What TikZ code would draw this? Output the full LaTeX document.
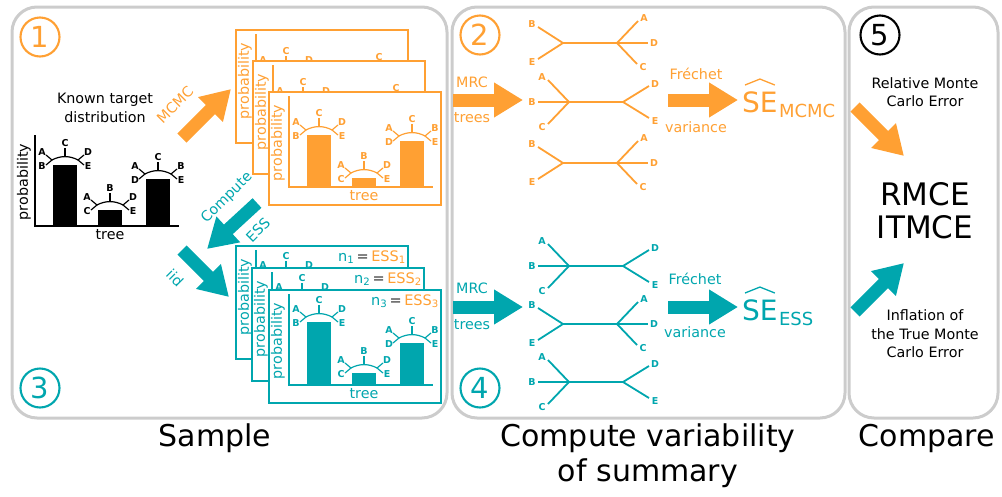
\documentclass[tikz,border=0pt]{standalone}
\usepackage{fontspec}
\setmainfont{DejaVu Sans}
\usetikzlibrary{arrows.meta,calc}
\definecolor{myor}{HTML}{FFA033}
\definecolor{mytl}{HTML}{00A6AE}
\definecolor{mygr}{HTML}{CCCCCC}
\definecolor{mydk}{HTML}{333333}
\tikzset{
  panel/.style={draw=mygr, line width=3pt, rounded corners=25pt},
  lab/.style={font=\bfseries\fontsize{9.5}{9.5}\selectfont, inner sep=0pt},
  num/.style={circle, draw, line width=2.1pt, minimum size=39pt, inner sep=0pt, font=\fontsize{29}{29}\selectfont},
  bigarrow/.style={line width=13pt, -{Triangle[length=29pt,width=33pt]}},
  txt/.style={font=\fontsize{14.3}{18.5}\selectfont, align=center, inner sep=0pt},
  bigtxt/.style={font=\fontsize{30}{34}\selectfont, inner sep=0pt, anchor=base},
  cardbox/.style={draw, fill=white, line width=1.5pt},
}
\newcommand{\mlab}[2]{\if\relax\detokenize{#2}\relax\else\node[lab] at #1 {#2};\fi}
\newcommand{\minitree}[6]{%
  \begin{scope}[shift={#1}, line width=1.2pt]
    \draw (-13,3) .. controls (-5,-1.5) and (5,-1.5) .. (13,3);
    \draw (0,-0.5) -- (0,-9);
    \draw (-19,-2) -- (-13,3);
    \draw (-19,8) -- (-13,3);
    \draw (19,-2) -- (13,3);
    \draw (19,8) -- (13,3);
    \mlab{(-23,-5)}{#2}
    \mlab{(-23,9)}{#3}
    \mlab{(0,-14)}{#4}
    \mlab{(23,-5)}{#5}
    \mlab{(23,9)}{#6}
  \end{scope}}
% #6: F = full, O = orange back card, T = teal back card
\newcommand{\histo}[6]{%
  \begin{scope}[shift={#1}, color=#2]
    \fill (18,0) rectangle (42,-#3);
    \fill (63,0) rectangle (87,-#4);
    \fill (111,0) rectangle (135,-#5);
    \draw[line width=2.5pt] (0,-91) -- (0,0) -- (144,0);
    \if#6F
      \minitree{(30,-#3-8)}{A}{B}{C}{D}{E}
      \minitree{(75,-#4-8)}{A}{C}{B}{D}{E}
      \minitree{(123,-#5-8)}{A}{D}{C}{B}{E}
      \node[txt] at (75,9) {tree};
    \else
      \minitree{(30,-#3-8)}{A}{}{C}{D}{}
      \minitree{(75,-#4-8)}{}{}{}{}{}
      \if#6O
        \minitree{(123,-#5-8)}{}{}{C}{}{}
      \else
        \minitree{(123,-#5-8)}{}{}{}{}{}
      \fi
    \fi
    \node[txt, rotate=90] at (-11,-44) {probability};
  \end{scope}}
\newcommand{\card}[7]{%
  \draw[cardbox, draw=#3] (#1,#2) rectangle (#1+172,#2+113);
  \histo{(#1+20,#2+95)}{#3}{#4}{#5}{#6}{#7}}
\newcommand{\nlabel}[3]{%
  \node[anchor=base east, inner sep=0pt, font=\fontsize{14.5}{14.5}\selectfont] at (#1+170,#2+15)
    {\textcolor{mytl}{n\textsubscript{#3}}\,\textcolor{mydk}{=}\,\textcolor{myor}{ESS\textsubscript{#3}}};}
\newcommand{\treeA}[3]{%
  \begin{scope}[shift={(#1,#2)}, color=#3, line width=1.8pt]
    \draw (-25,-16) -- (0,0);
    \draw (-25,16) -- (0,0);
    \draw (0,0) -- (54,0);
    \draw (75,-22) -- (54,0);
    \draw (74,21) -- (54,0);
    \draw (54,0) -- (85,0);
    \node[lab] at (-31,-19) {B};
    \node[lab] at (-31,19) {E};
    \node[lab] at (81,-25) {A};
    \node[lab] at (91,0) {D};
    \node[lab] at (80,24) {C};
  \end{scope}}
\newcommand{\treeB}[3]{%
  \begin{scope}[shift={(#1,#2)}, color=#3, line width=1.8pt]
    \draw (-21,-22) -- (0,0);
    \draw (-31,0) -- (0,0);
    \draw (-21,22) -- (0,0);
    \draw (0,0) -- (54,0);
    \draw (80,-16) -- (54,0);
    \draw (80,16) -- (54,0);
    \node[lab] at (-27,-25) {A};
    \node[lab] at (-37,0) {B};
    \node[lab] at (-27,25) {C};
    \node[lab] at (86,-18) {D};
    \node[lab] at (86,19) {E};
  \end{scope}}
\begin{document}
\begin{tikzpicture}[x=1pt,y=-1pt]
\useasboundingbox (0,0) rectangle (1002,496);
% panels
\draw[panel] (12,7) rectangle (447,418);
\draw[panel] (452,7) rectangle (845,418);
\draw[panel] (849,7) rectangle (998,418);
% circled numbers
\node[num, draw=myor, text=myor] (n1) at (40,37) {1};
\node[num, draw=myor, text=myor] (n2) at (480,35) {2};
\node[num, draw=mytl, text=mytl] (n3) at (40,388) {3};
\node[num, draw=mytl, text=mytl] (n4) at (480,388) {4};
\node[num, draw=black, text=black] (n5) at (880,35) {5};
% bottom labels
\node[bigtxt] (lsample) at (215,446) {Sample};
\node[bigtxt] (lcomp1) at (648,446) {Compute variability};
\node[bigtxt] (lcomp2) at (648,481) {of summary};
\node[bigtxt] (lcompare) at (927,446) {Compare};
% panel 1
\node[txt] (known) at (105,108) {Known target\\distribution};
\histo{(35,226)}{black}{61}{16}{47}{F}
\card{236}{30}{myor}{52}{9}{46}{O}
\card{253}{61}{myor}{52}{9}{46}{O}
\card{269}{92}{myor}{52}{9}{46}{F}
\card{236}{246}{mytl}{63}{12}{42}{T}
\nlabel{236}{246}{1}
\card{252}{268}{mytl}{63}{12}{42}{T}
\nlabel{252}{268}{2}
\card{269}{290}{mytl}{63}{12}{42}{F}
\nlabel{269}{290}{3}
% panel 1 arrows
\coordinate (mcA) at (182,138); \coordinate (mcB) at (231,89);
\draw[bigarrow, myor] (mcA) -- (mcB);
\node[txt, myor, rotate=45] (lmcmc) at (175,105) {MCMC};
\coordinate (esA) at (257,203); \coordinate (esB) at (207,249);
\draw[bigarrow, mytl] (esA) -- (esB);
\node[txt, mytl, rotate=45] (lcompute) at (227,198) {Compute};
\node[txt, mytl, rotate=45] (less) at (258,230) {ESS};
\coordinate (idA) at (182,250); \coordinate (idB) at (229,297);
\draw[bigarrow, mytl] (idA) -- (idB);
\node[txt, mytl, rotate=-45] (liid) at (175,278) {iid};
% panel 2 orange
\coordinate (mrA) at (453,100); \coordinate (mrB) at (523,100);
\draw[bigarrow, myor] (mrA) -- (mrB);
\node[txt, myor] at (472,82) {MRC};
\node[txt, myor] at (472,118) {trees};
\treeA{563}{43}{myor}
\treeB{569}{102}{myor}
\treeA{563}{163}{myor}
\coordinate (frA) at (668,100); \coordinate (frB) at (738,100);
\draw[bigarrow, myor] (frA) -- (frB);
\node[txt, myor] at (696,74) {Fréchet};
\node[txt, myor] at (696,127) {variance};
\node[anchor=base west, inner sep=0pt, font=\fontsize{28}{28}\selectfont, myor] (seM) at (742,112) {SE};
\node[anchor=base west, inner sep=0pt, font=\fontsize{18}{18}\selectfont, myor] (seMs) at ($(seM.base east)+(1,5)$) {MCMC};
\draw[myor, line width=1.3pt] ($(seM.north west)+(3,-6)$) -- ($(seM.north)+(0,-12)$) -- ($(seM.north east)+(-3,-6)$);
% panel 2 teal
\coordinate (mrC) at (453,307); \coordinate (mrD) at (523,307);
\draw[bigarrow, mytl] (mrC) -- (mrD);
\node[txt, mytl] at (472,288) {MRC};
\node[txt, mytl] at (472,325) {trees};
\treeB{569}{266}{mytl}
\treeA{563}{324}{mytl}
\treeB{569}{382}{mytl}
\coordinate (frC) at (668,307); \coordinate (frD) at (738,307);
\draw[bigarrow, mytl] (frC) -- (frD);
\node[txt, mytl] at (695,279) {Fréchet};
\node[txt, mytl] at (695,332) {variance};
\node[anchor=base west, inner sep=0pt, font=\fontsize{28}{28}\selectfont, mytl] (seE) at (742,320) {SE};
\node[anchor=base west, inner sep=0pt, font=\fontsize{18}{18}\selectfont, mytl] (seEs) at ($(seE.base east)+(1,5)$) {ESS};
\draw[mytl, line width=1.3pt] ($(seE.north west)+(3,-6)$) -- ($(seE.north)+(0,-12)$) -- ($(seE.north east)+(-3,-6)$);
% panel 3
\node[txt] (rmce) at (925,92) {Relative Monte\\Carlo Error};
\coordinate (p3A) at (855,107); \coordinate (p3B) at (904,156);
\draw[bigarrow, myor] (p3A) -- (p3B);
\node[font=\fontsize{31}{33}\selectfont, align=center, inner sep=0pt] (res) at (925,211) {RMCE\\ITMCE};
\coordinate (p3C) at (855,312); \coordinate (p3D) at (904,263);
\draw[bigarrow, mytl] (p3C) -- (p3D);
\node[txt] (itmce) at (925,334) {Inflation of\\the True Monte\\Carlo Error};
\end{tikzpicture}
\end{document}
